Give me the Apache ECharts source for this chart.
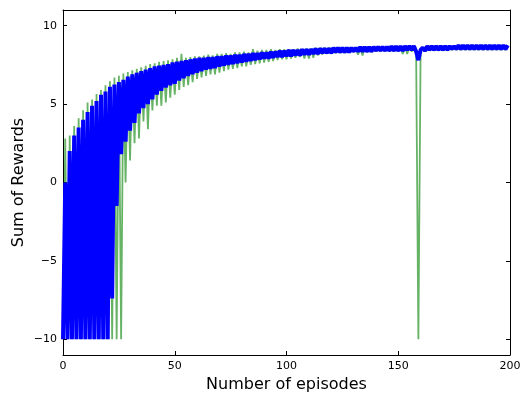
<!DOCTYPE html>
<html><head><meta charset="utf-8">
<script src="https://cdn.jsdelivr.net/npm/echarts@6/dist/echarts.min.js"></script>
<style>html,body{margin:0;padding:0;background:#fff}#c{width:521px;height:394px}</style>
</head><body><div id="c"></div>
<script>
// Episode index 0..199
const blueRewards = [
-10, 0, -10, 2, -10, 3, -10, 3.5, -10, 4, -10, 4.5, -10, 4.9, -10, 5.2, -10, 5.6, -10, 5.8,
-10, 6.1, -7.4, 6.25, -1.5, 6.4, 1.8, 6.55, 2.6, 6.75, 3.3, 6.9, 3.8, 7.0, 4.4, 7.1, 4.75, 7.2, 5.0, 7.3,
5.3, 7.4, 5.6, 7.45, 5.85, 7.5, 6.05, 7.55, 6.2, 7.65, 6.3, 7.7, 6.5, 7.75, 6.65, 7.8, 6.8, 7.85, 6.9, 7.9,
7.0, 7.95, 7.1, 7.95, 7.2, 8.0, 7.25, 8.0, 7.3, 8.05, 7.4, 8.05, 7.45, 8.1, 7.5, 8.1, 7.55, 8.15, 7.6, 8.15,
7.65, 8.2, 7.7, 8.2, 7.75, 8.25, 7.8, 8.25, 7.85, 8.3, 7.9, 8.3, 7.9, 8.35, 7.95, 8.35, 8.0, 8.4, 8.0, 8.4,
8.05, 8.45, 8.05, 8.45, 8.1, 8.45, 8.1, 8.5, 8.15, 8.5, 8.15, 8.5, 8.2, 8.55, 8.2, 8.55, 8.25, 8.55, 8.25, 8.55,
8.25, 8.6, 8.3, 8.6, 8.3, 8.6, 8.3, 8.6, 8.3, 8.6, 8.35, 8.6, 8.35, 8.65, 8.35, 8.65, 8.35, 8.65, 8.35, 8.65,
8.4, 8.65, 8.4, 8.65, 8.4, 8.65, 8.4, 8.7, 8.4, 8.7, 8.4, 8.7, 8.4, 8.7, 8.45, 8.7, 8.45, 8.7, 8.35, 7.8,
8.45, 8.6, 8.4, 8.7, 8.45, 8.7, 8.45, 8.7, 8.45, 8.7, 8.45, 8.7, 8.45, 8.7, 8.5, 8.7, 8.5, 8.75, 8.5, 8.75,
8.5, 8.75, 8.5, 8.75, 8.5, 8.75, 8.5, 8.75, 8.5, 8.75, 8.5, 8.75, 8.5, 8.75, 8.5, 8.75, 8.5, 8.75, 8.5, 8.75
];
const greenRewards = [
-10, 2.8, -10, 3.0, -10, 3.6, -10, 4.1, -10, 4.6, -10, 5.1, -10, 5.3, -10, 5.65, -10, 5.9, -10, 6.2,
-10, 6.45, -10, 6.7, -10, 6.8, -10, 6.95, 0.0, 7.05, 1.4, 7.15, 2.5, 7.25, 2.8, 7.35, 3.9, 7.45, 3.4, 7.55,
4.6, 7.6, 4.9, 7.7, 4.9, 7.75, 5.1, 7.8, 5.4, 7.85, 5.6, 7.95, 5.9, 8.2, 6.1, 7.95, 6.2, 8.0, 6.4, 8.05,
6.6, 8.05, 6.7, 8.1, 6.8, 8.15, 6.9, 8.1, 6.9, 8.2, 7.0, 8.2, 7.1, 8.25, 7.2, 8.2, 7.25, 8.3, 7.3, 8.3,
7.4, 8.35, 7.4, 8.3, 7.5, 8.5, 7.55, 8.4, 7.6, 8.45, 7.65, 8.45, 7.7, 8.5, 7.75, 8.45, 7.8, 8.5, 7.85, 8.5,
7.85, 8.5, 7.9, 8.5, 7.95, 8.55, 8.0, 8.5, 7.9, 8.55, 7.9, 8.55, 7.95, 8.6, 8.1, 8.6, 8.15, 8.6, 8.2, 8.6,
8.2, 8.6, 8.25, 8.6, 8.25, 8.6, 8.25, 8.6, 8.3, 8.6, 8.3, 8.6, 8.15, 8.6, 8.1, 8.6, 8.3, 8.6, 8.3, 8.6,
8.35, 8.6, 8.35, 8.6, 8.35, 8.65, 8.35, 8.65, 8.35, 8.65, 8.35, 8.65, 8.2, 8.65, 8.2, 8.65, 8.35, 8.65, 8.3, -10,
8.35, 8.6, 8.35, 8.65, 8.4, 8.65, 8.4, 8.65, 8.4, 8.65, 8.4, 8.65, 8.4, 8.65, 8.45, 8.65, 8.45, 8.7, 8.45, 8.7,
8.45, 8.7, 8.45, 8.7, 8.45, 8.7, 8.45, 8.7, 8.45, 8.7, 8.45, 8.7, 8.45, 8.7, 8.45, 8.7, 8.45, 8.7, 8.45, 8.7
];
const xTicks = [0, 50, 100, 150, 200];
const yTicks = [-10, -5, 0, 5, 10];
const xTitle = 'Number of episodes';
const yTitle = 'Sum of Rewards';

const font = "'DejaVu Sans', sans-serif";
const lineBlack = {show: true, onZero: false, lineStyle: {color: '#000', width: 1}};
const tickIn = (vals) => ({show: true, inside: true, length: 4, lineStyle: {color: '#000', width: 1}, customValues: vals});
const minus = v => String(v).replace('-', '\u2212');

const chart = echarts.init(document.getElementById('c'), null, {renderer: 'canvas'});
chart.setOption({
  animation: false,
  backgroundColor: '#fff',
  grid: {left: 63, right: 11, top: 10, bottom: 39, containLabel: false, outerBoundsMode: 'none'},
  xAxis: [
    {type: 'value', min: 0, max: 200, position: 'bottom',
     axisLine: lineBlack, axisTick: tickIn(xTicks),
     axisLabel: {customValues: xTicks, color: '#000', fontSize: 11, fontFamily: font, margin: 6, formatter: minus},
     splitLine: {show: false},
     name: xTitle, nameLocation: 'middle', nameGap: 22, nameMoveOverlap: false,
     nameTextStyle: {fontSize: 16, color: '#000', fontFamily: font}},
    {type: 'value', min: 0, max: 200, position: 'top',
     axisLine: lineBlack, axisTick: tickIn(xTicks), axisLabel: {show: false}, splitLine: {show: false}}
  ],
  yAxis: [
    {type: 'value', min: -11, max: 11, position: 'left',
     axisLine: lineBlack, axisTick: tickIn(yTicks),
     axisLabel: {customValues: yTicks, color: '#000', fontSize: 11, fontFamily: font, margin: 6, formatter: minus},
     splitLine: {show: false},
     name: yTitle, nameLocation: 'middle', nameGap: 36, nameMoveOverlap: false,
     nameTextStyle: {fontSize: 16, color: '#000', fontFamily: font}},
    {type: 'value', min: -11, max: 11, position: 'right',
     axisLine: lineBlack, axisTick: tickIn(yTicks), axisLabel: {show: false}, splitLine: {show: false}}
  ],
  series: [
    {type: 'line', name: 'green', xAxisIndex: 0, yAxisIndex: 0, showSymbol: false, z: 2,
     data: greenRewards.map((v, i) => [i, v]),
     lineStyle: {color: '#008000', width: 1.8, opacity: 0.6}},
    {type: 'line', name: 'blue', xAxisIndex: 0, yAxisIndex: 0, showSymbol: false, z: 3,
     data: blueRewards.map((v, i) => [i, v]),
     lineStyle: {color: '#0000ff', width: 4}}
  ]
});
</script>
</body></html>
